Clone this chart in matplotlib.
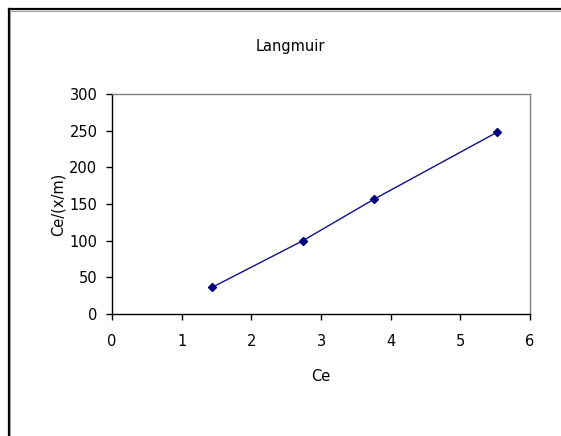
import matplotlib
matplotlib.use("Agg")
import matplotlib.pyplot as plt
from matplotlib.lines import Line2D

ce = [1.44, 2.74, 3.76, 5.53]
ce_xm = [36.5, 100, 156.5, 248]
x_ticks = [0, 1, 2, 3, 4, 5, 6]
y_ticks = [0, 50, 100, 150, 200, 250, 300]

plt.rcParams['font.family'] = ['DejaVu Sans']

W, H = 561, 436
fig = plt.figure(figsize=(W / 100, H / 100), dpi=100)
fig.patch.set_facecolor('white')

# outer chart frame (top and left edges visible)
fig.add_artist(Line2D([8.5 / W, 1.0], [1 - 9.5 / H, 1 - 9.5 / H], color='black', lw=1.6,
                      transform=fig.transFigure))
fig.add_artist(Line2D([8.5 / W, 8.5 / W], [0.0, 1 - 9.5 / H], color='black', lw=1.6,
                      transform=fig.transFigure))
fig.add_artist(Line2D([10.5 / W, 1.0], [1 - 11.3 / H, 1 - 11.3 / H], color='#a0a0a0', lw=0.8,
                      transform=fig.transFigure))
fig.add_artist(Line2D([10.3 / W, 10.3 / W], [0.0, 1 - 11.3 / H], color='#a0a0a0', lw=0.8,
                      transform=fig.transFigure))

left, right, top, bottom = 112, 530, 94, 314
ax = fig.add_axes([left / W, 1 - bottom / H, (right - left) / W, (bottom - top) / H])

ax.plot(ce, ce_xm, color='#10108a', lw=1.0, marker='D', markersize=4,
        markerfacecolor='#000080', markeredgecolor='#000080')

ax.set_xlim(0, 6)
ax.set_ylim(0, 300)
ax.set_xticks(x_ticks)
ax.set_yticks(y_ticks)
ax.tick_params(direction='out', length=4.5, width=1.0, labelsize=10.5, color='black')
ax.tick_params(axis='x', pad=10)
ax.tick_params(axis='y', pad=6)

for side in ['left', 'bottom']:
    ax.spines[side].set_color('black')
    ax.spines[side].set_linewidth(1.0)
for side in ['top', 'right']:
    ax.spines[side].set_color('#808080')
    ax.spines[side].set_linewidth(1.0)

ax.set_xlabel('Ce', fontsize=10.5, labelpad=14)
ax.set_ylabel('Ce/(x/m)', fontsize=10.5, labelpad=3)
fig.text(290 / W, 1 - 47 / H, 'Langmuir', ha='center', va='center', fontsize=10.5)

fig.savefig('out.png', dpi=100, facecolor='white')
